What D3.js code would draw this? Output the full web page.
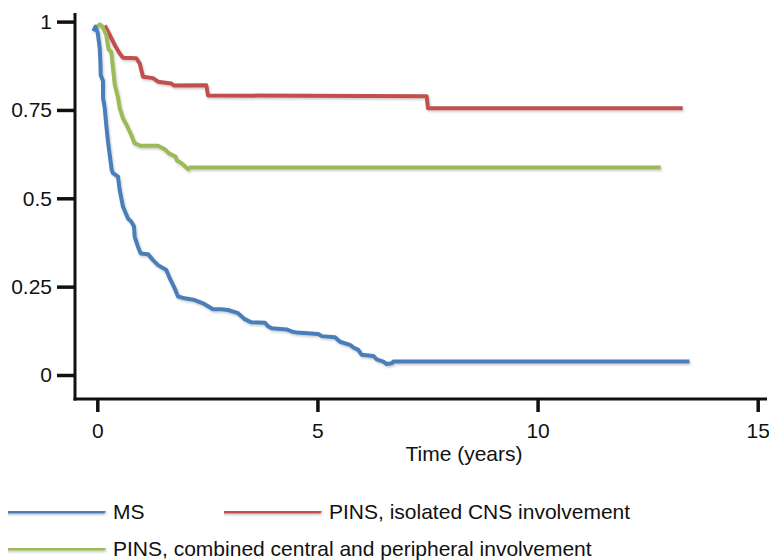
<!DOCTYPE html>
<html>
<head>
<meta charset="utf-8">
<script src="https://cdn.jsdelivr.net/npm/d3@7"></script>
<style>
  body { margin: 0; background: #fff; }
  text { font-family: "Liberation Sans", Arial, sans-serif; fill: #111; }
</style>
</head>
<body>
<div id="chart"></div>
<script>
// survival curves (time in years, proportion)
const msTime = [-0.09, -0.04, 0.01, 0.055, 0.073, 0.077, 0.13, 0.13, 0.168, 0.204, 0.243, 0.282, 0.327, 0.357,
    0.47, 0.509, 0.584, 0.697, 0.772, 0.834, 0.849, 0.924, 0.986, 1.151, 1.265, 1.379, 1.567, 1.644, 1.758,
    1.833, 1.985, 2.212, 2.401, 2.628, 2.816, 2.968, 3.196, 3.348, 3.498, 3.809, 3.884, 3.961, 4.302, 4.415,
    4.529, 5.019, 5.097, 5.399, 5.512, 5.739, 5.814, 5.928, 6.005, 6.268, 6.346, 6.496, 6.573, 6.686, 6.723, 13.45];
const msSurv = [0.973, 0.986, 0.968, 0.925, 0.877, 0.849, 0.832, 0.784, 0.756, 0.707, 0.66, 0.623, 0.58, 0.571,
    0.561, 0.523, 0.476, 0.443, 0.434, 0.42, 0.391, 0.363, 0.344, 0.342, 0.325, 0.311, 0.297, 0.274, 0.245,
    0.222, 0.217, 0.212, 0.203, 0.186, 0.186, 0.184, 0.175, 0.158, 0.149, 0.148, 0.137, 0.132, 0.129, 0.123,
    0.12, 0.116, 0.11, 0.107, 0.094, 0.085, 0.078, 0.071, 0.057, 0.054, 0.044, 0.038, 0.031, 0.033, 0.038, 0.038];

const isoTime = [0.168, 0.282, 0.395, 0.509, 0.584, 0.886, 0.963, 1.038, 1.265, 1.379, 1.681, 1.742, 2.476,
    2.514, 7.481, 7.511, 13.296];
const isoSurv = [0.989, 0.962, 0.934, 0.91, 0.898, 0.896, 0.882, 0.844, 0.84, 0.83, 0.825, 0.819, 0.82,
    0.791, 0.789, 0.755, 0.755];

const combTime = [0.005, 0.055, 0.118, 0.204, 0.254, 0.318, 0.357, 0.395, 0.47, 0.509, 0.584, 0.659, 0.772,
    0.845, 0.97, 1.379, 1.538, 1.628, 1.776, 1.81, 1.912, 2.065, 2.105, 12.796];
const combSurv = [0.986, 0.992, 0.986, 0.962, 0.922, 0.914, 0.868, 0.823, 0.785, 0.755, 0.726, 0.709, 0.679,
    0.656, 0.649, 0.649, 0.638, 0.627, 0.618, 0.607, 0.599, 0.582, 0.587, 0.587];

const yTicks = [0, 0.25, 0.5, 0.75, 1];
const yTickLabels = ["0", "0.25", "0.5", "0.75", "1"];
const xTicks = [0, 5, 10, 15];

const seriesNames = ["MS", "PINS, isolated CNS involvement", "PINS, combined central and peripheral involvement"];
const seriesColors = ["#4a7ebb", "#c0504d", "#9bbb59"];

const width = 769, height = 560;

const svg = d3.select("#chart")
    .append("svg")
    .attr("width", width)
    .attr("height", height);

// soft drop shadow like the original (user space so flat lines keep it)
const defs = svg.append("defs");
defs.append("filter")
    .attr("id", "shadow")
    .attr("filterUnits", "userSpaceOnUse")
    .attr("x", 0).attr("y", 0).attr("width", width).attr("height", height)
    .append("feDropShadow")
    .attr("dx", 1).attr("dy", 1.5).attr("stdDeviation", 1)
    .attr("flood-color", "#000").attr("flood-opacity", 0.22);

const x = d3.scaleLinear().domain([0, 15]).range([97.3, 757.7]);
const y = d3.scaleLinear().domain([0, 1]).range([375, 21.6]);

const axisX = 75, axisY = 399;

// axis lines
svg.append("line")
    .attr("x1", axisX).attr("x2", axisX)
    .attr("y1", 13).attr("y2", axisY + 1.5)
    .attr("stroke", "#111").attr("stroke-width", 3);
svg.append("line")
    .attr("x1", axisX - 1.5).attr("x2", 767)
    .attr("y1", axisY).attr("y2", axisY)
    .attr("stroke", "#111").attr("stroke-width", 3);

// y axis
svg.append("g")
    .attr("transform", "translate(" + axisX + ",0)")
    .call(d3.axisLeft(y)
        .tickValues(yTicks)
        .tickFormat(function (d, i) { return yTickLabels[i]; })
        .tickSize(18)
        .tickPadding(5))
    .call(g => g.select(".domain").remove())
    .call(g => g.selectAll(".tick line").attr("stroke", "#111").attr("stroke-width", 3.5))
    .call(g => g.selectAll(".tick text")
        .attr("font-size", 21)
        .attr("font-family", "Liberation Sans, Arial, sans-serif")
        .attr("fill", "#111"));

// x axis
svg.append("g")
    .attr("transform", "translate(0," + axisY + ")")
    .call(d3.axisBottom(x)
        .tickValues(xTicks)
        .tickFormat(d3.format("d"))
        .tickSize(13)
        .tickPadding(11))
    .call(g => g.select(".domain").remove())
    .call(g => g.selectAll(".tick line").attr("stroke", "#111").attr("stroke-width", 3.5))
    .call(g => g.selectAll(".tick text")
        .attr("font-size", 21)
        .attr("font-family", "Liberation Sans, Arial, sans-serif")
        .attr("fill", "#111"));

svg.append("text")
    .attr("x", 464)
    .attr("y", 461)
    .attr("text-anchor", "middle")
    .attr("font-size", 21)
    .text("Time (years)");

// curves
const line = d3.line()
    .x(d => x(d[0]))
    .y(d => y(d[1]));

const series = [
    d3.zip(msTime, msSurv),
    d3.zip(isoTime, isoSurv),
    d3.zip(combTime, combSurv)
];

svg.append("g")
    .attr("filter", "url(#shadow)")
    .selectAll("path")
    .data(series)
    .enter().append("path")
    .attr("d", line)
    .attr("fill", "none")
    .attr("stroke", (d, i) => seriesColors[i])
    .attr("stroke-width", 4)
    .attr("stroke-linejoin", "round");

// legend
const legendPos = [
    { lx: 8, ly: 511 },
    { lx: 224, ly: 511 },
    { lx: 8, ly: 548 }
];

const legend = svg.append("g").selectAll("g")
    .data(seriesNames)
    .enter().append("g")
    .attr("transform", (d, i) => "translate(" + legendPos[i].lx + "," + legendPos[i].ly + ")");

legend.append("line")
    .attr("x1", 0).attr("x2", 95)
    .attr("y1", 0).attr("y2", 0)
    .attr("stroke", (d, i) => seriesColors[i])
    .attr("stroke-width", 5)
    .attr("stroke-linecap", "round")
    .attr("filter", "url(#shadow)");

legend.append("text")
    .attr("x", 105)
    .attr("y", 8)
    .attr("font-size", 21)
    .text(d => d);
</script>
</body>
</html>
